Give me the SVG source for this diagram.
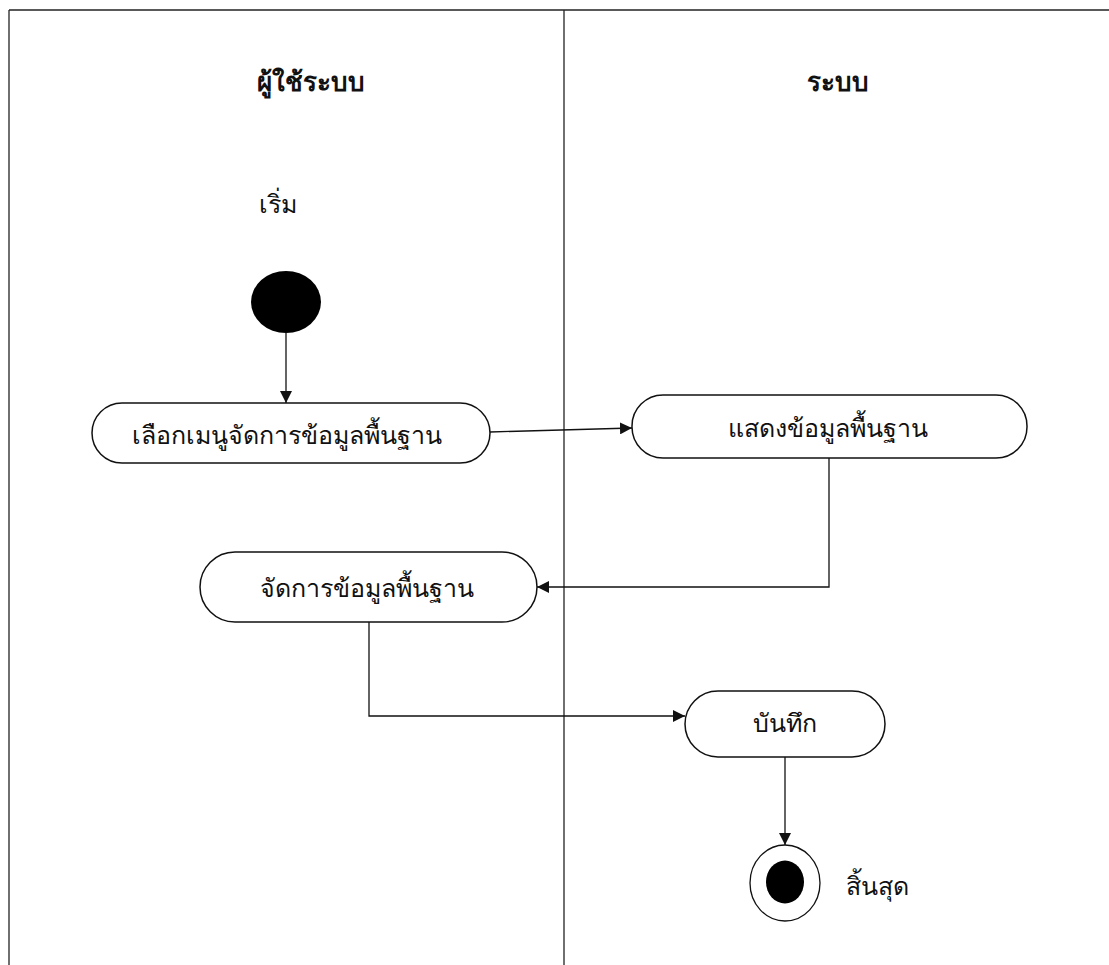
<svg xmlns="http://www.w3.org/2000/svg" width="1109" height="965" viewBox="0 0 1109 965">
<style>
.lane{stroke:#222;stroke-width:1.3;fill:none}
.box{fill:#fff;stroke:#111;stroke-width:1.5}
.t{font-family:"Noto Sans","DejaVu Sans",sans-serif;font-size:25px;fill:#111;text-anchor:middle}
.h{font-family:"Noto Sans","DejaVu Sans",sans-serif;font-size:26px;font-weight:bold;fill:#111;text-anchor:middle}
.c{stroke:#111;stroke-width:1.3;fill:none;marker-end:url(#arr)}
</style>
<defs>
<marker id="arr" viewBox="0 0 12 12" refX="12" refY="6" markerWidth="12" markerHeight="12" markerUnits="userSpaceOnUse" orient="auto">
<path d="M0,0 L12,6 L0,12 Z" fill="#111"/>
</marker>
</defs>
<rect width="1109" height="965" fill="#fff"/>
<g id="lanes">
<line class="lane" x1="9" y1="10" x2="1109" y2="10"/>
<line class="lane" x1="9" y1="10" x2="9" y2="965"/>
<line class="lane" x1="564" y1="10" x2="564" y2="965"/>
<text class="h" x="311" y="91">ผู้ใช้ระบบ</text>
<text class="h" x="838" y="91">ระบบ</text>
</g>
<g id="start">
<text class="t" x="278" y="213">เริ่ม</text>
<ellipse cx="286" cy="302" rx="35" ry="31" fill="#000"/>
</g>
<g id="n1">
<rect class="box" x="92" y="403" width="398" height="60" rx="30" ry="30"/>
<text class="t" x="287" y="444">เลือกเมนูจัดการข้อมูลพื้นฐาน</text>
</g>
<g id="n2">
<rect class="box" x="632" y="395" width="395" height="63" rx="31" ry="31"/>
<text class="t" x="828" y="437">แสดงข้อมูลพื้นฐาน</text>
</g>
<g id="n3">
<rect class="box" x="200" y="552" width="337" height="70" rx="35" ry="35"/>
<text class="t" x="367" y="597">จัดการข้อมูลพื้นฐาน</text>
</g>
<g id="n4">
<rect class="box" x="685" y="691" width="200" height="66" rx="33" ry="33"/>
<text class="t" x="785" y="732">บันทึก</text>
</g>
<g id="end">
<ellipse cx="785" cy="883" rx="35" ry="38" fill="#fff" stroke="#111" stroke-width="1.3"/>
<ellipse cx="785" cy="882" rx="19" ry="21.5" fill="#000"/>
<text class="t" x="877" y="895">สิ้นสุด</text>
</g>
<g id="connectors">
<path class="c" d="M286,333 L286,403"/>
<path class="c" d="M490,432 L632,428"/>
<path class="c" d="M829,458 L829,587 L537,587"/>
<path class="c" d="M369,622 L369,716 L685,716"/>
<path class="c" d="M785,757 L785,845"/>
</g>
</svg>
